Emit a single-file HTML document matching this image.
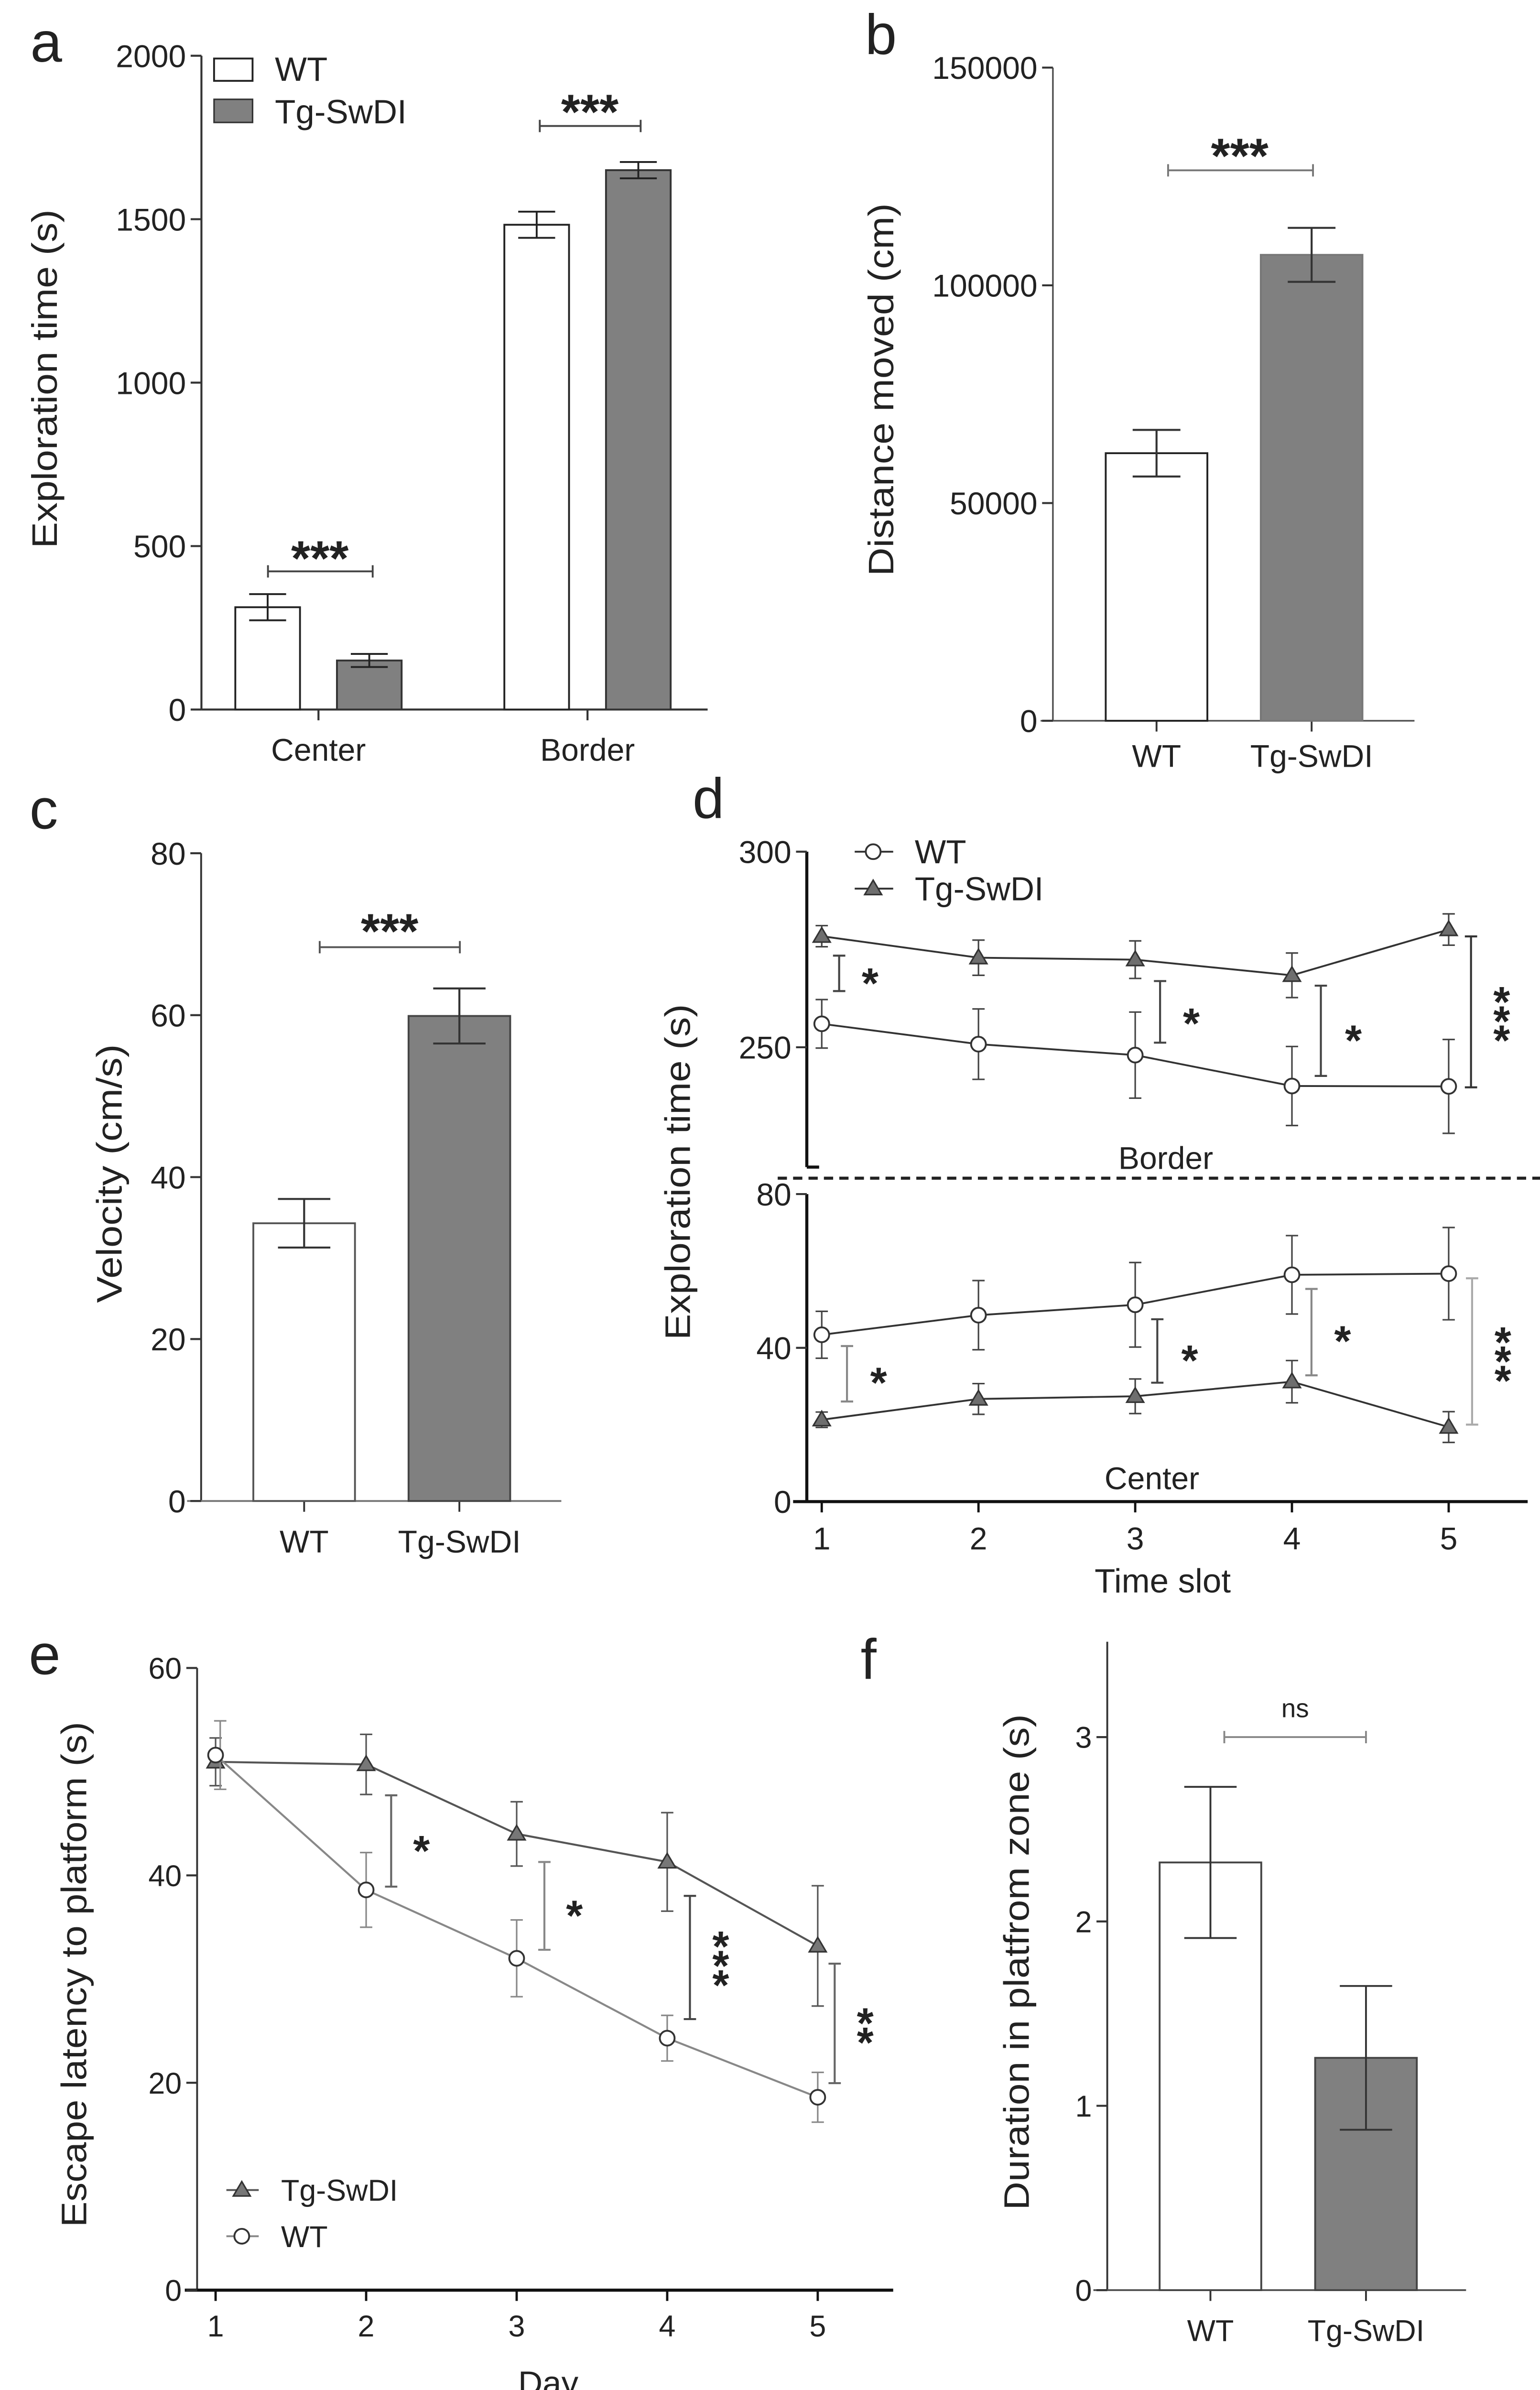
<!DOCTYPE html>
<html><head><meta charset="utf-8"><style>
html,body{margin:0;padding:0;background:#fff;width:3222px;height:5051px;overflow:hidden;}
svg{display:block;}
text{font-family:"Liberation Sans",Arial,sans-serif;fill:#222;}
</style></head><body>
<svg id="fig" xmlns="http://www.w3.org/2000/svg" width="3222" height="5051" viewBox="0 0 1000 1567.66"></svg>
<script>
// ---------- panel a data ----------
const aCats = ["Center", "Border"];
const aWT = [313, 1483];
const aWTErr = [40, 40];
const aTg = [150, 1650];
const aTgErr = [20, 25];
const aTicks = [0, 500, 1000, 1500, 2000];
// ---------- panel b data ----------
const bCats = ["WT", "Tg-SwDI"];
const bVals = [61450, 107000];
const bErr = [5350, 6200];
const bTicks = [0, 50000, 100000, 150000];
// ---------- panel c data ----------
const cCats = ["WT", "Tg-SwDI"];
const cVals = [34.3, 59.9];
const cErr = [3.0, 3.4];
const cTicks = [0, 20, 40, 60, 80];
// ---------- panel d data ----------
const dSlots = [1, 2, 3, 4, 5];
const dBorderWT = [256, 250.8, 248, 240.1, 240];
const dBorderWTErr = [6.2, 9, 11, 10.1, 12];
const dBorderTg = [278.4, 272.9, 272.4, 268.4, 280.1];
const dBorderTgErr = [2.7, 4.5, 4.8, 5.7, 4];
const dCenterWT = [43.4, 48.5, 51.2, 59, 59.3];
const dCenterWTErr = [6.1, 9, 11, 10.2, 12];
const dCenterTg = [21.3, 26.7, 27.4, 31.2, 19.4];
const dCenterTgErr = [2, 4, 4.5, 5.5, 4];
const dTopTicks = [250, 300];
const dBotTicks = [0, 40, 80];
// ---------- panel e data ----------
const eDays = [1, 2, 3, 4, 5];
const eTg = [50.95, 50.7, 44, 41.3, 33.2];
const eTgErr = [2.3, 2.9, 3.1, 4.75, 5.8];
const eWT = [51.6, 38.6, 32, 24.3, 18.6];
const eWTErr = [3.3, 3.6, 3.7, 2.2, 2.4];
const eTicks = [0, 20, 40, 60];
// ---------- panel f data ----------
const fCats = ["WT", "Tg-SwDI"];
const fVals = [2.32, 1.26];
const fErr = [0.41, 0.39];
const fTicks = [0, 1, 2, 3];

const NS = "http://www.w3.org/2000/svg";
const svg = document.getElementById("fig");
function mk(tag, attrs, parent, name) {
  const e = document.createElementNS(NS, tag);
  for (const k in attrs) e.setAttribute(k, attrs[k]);
  
  
  (parent || svg).appendChild(e);
  return e;
}
function group(name) {
  const g = document.createElementNS(NS, "g");
  
  
  svg.appendChild(g);
  return g;
}
function ln(g, x1, y1, x2, y2, col, w, name, dash) {
  const a = {x1: x1, y1: y1, x2: x2, y2: y2, stroke: col, "stroke-width": w};
  if (dash) a["stroke-dasharray"] = dash;
  return mk("line", a, g, name);
}
function tx(g, x, y, s, size, anchor, name, extra) {
  const a = {x: x, y: y, "font-size": size, "text-anchor": anchor || "start"};
  if (extra) for (const k in extra) a[k] = extra[k];
  const t = mk("text", a, g, name);
  t.textContent = s;
  return t;
}
function ytitle(g, x, cy, s, len, name) {
  return tx(g, 0, 0, s, 23, "middle", name, {transform: "translate(" + x + "," + cy + ") rotate(-90)", dy: "8", textLength: len, lengthAdjust: "spacingAndGlyphs"});
}
function errbar(g, x, y1, y2, cw, col, w, name) {
  ln(g, x, y1, x, y2, col, w, name + "-stem");
  ln(g, x - cw, y1, x + cw, y1, col, w, name + "-cap-top");
  ln(g, x - cw, y2, x + cw, y2, col, w, name + "-cap-bottom");
}
function hbracket(g, x1, x2, y, col, name) {
  ln(g, x1, y, x2, y, col, 1.2, name + "-line");
  ln(g, x1, y - 4, x1, y + 4, col, 1.2, name + "-cap-left");
  ln(g, x2, y - 4, x2, y + 4, col, 1.2, name + "-cap-right");
}
function vbracket(g, x, y1, y2, col, name) {
  ln(g, x, y1, x, y2, col, 1.3, name + "-line");
  ln(g, x - 4, y1, x + 4, y1, col, 1.3, name + "-cap-top");
  ln(g, x - 4, y2, x + 4, y2, col, 1.3, name + "-cap-bottom");
}
function stars(g, x, cy, s, size, name) {
  return tx(g, x, cy + 0.55 * size, s, size, "middle", name, {"font-weight": "bold"});
}
function vstars(g, x, cy, n, name) {
  for (let k = 0; k < n; k++) {
    const off = (k - (n - 1) / 2) * 12.5;
    tx(g, x, cy + off + 15, "*", 28, "middle", name + "-" + k, {"font-weight": "bold"});
  }
}
function circ(g, x, y, name) {
  return mk("circle", {cx: x, cy: y, r: 4.8, fill: "#fff", stroke: "#333", "stroke-width": 1.2}, g, name);
}
function tri(g, x, y, name, fill) {
  const s = 5.5;
  return mk("polygon", {points: (x) + "," + (y - s) + " " + (x - s) + "," + (y + s * 0.7) + " " + (x + s) + "," + (y + s * 0.7), fill: fill || "#6e6e6e", stroke: "#333", "stroke-width": 1}, g, name);
}
function ytick(g, ax, y, label, size, name) {
  ln(g, ax - 7, y, ax, y, "#333", 1.3, name + "-tick");
  tx(g, ax - 10, y + 0.36 * size, label, size, "end", name + "-label");
}

// ================= PANEL A =================
(function () {
  const g = group("panel-a");
  const ya = v => 460.7 - v * 0.21225;
  const xa = i => 206.8 + i * 174.7;
  const AX = 130.8;
  tx(g, 30, 40, "a", 37, "middle", "panel-a-letter");
  ln(g, AX, ya(0), AX, ya(2000), "#333", 1.3, "y-axis");
  ln(g, AX, ya(0), 459.5, ya(0), "#333", 1.3, "x-axis");
  aTicks.forEach(v => ytick(g, AX, ya(v), String(v), 20.5, "y-tick-" + v));
  ytitle(g, 29, 246, "Exploration time (s)", 220, "y-axis-title");
  aCats.forEach((c, i) => {
    ln(g, xa(i), ya(0), xa(i), ya(0) + 7, "#333", 1.3, "x-tick-" + c.toLowerCase());
    tx(g, xa(i), 494, c, 20.5, "middle", "x-label-" + c.toLowerCase());
    const xw = xa(i) - 33;
    mk("rect", {x: xw - 21, y: ya(aWT[i]), width: 42, height: ya(0) - ya(aWT[i]), fill: "#fff", stroke: "#222", "stroke-width": 1.2}, g, "bar-wt-" + c.toLowerCase());
    errbar(g, xw, ya(aWT[i] + aWTErr[i]), ya(aWT[i] - aWTErr[i]), 12, "#222", 1.2, "err-wt-" + c.toLowerCase());
    const xt = xa(i) + 33;
    mk("rect", {x: xt - 21, y: ya(aTg[i]), width: 42, height: ya(0) - ya(aTg[i]), fill: "#808080", stroke: "#333", "stroke-width": 1.2}, g, "bar-tg-" + c.toLowerCase());
    errbar(g, xt, ya(aTg[i] + aTgErr[i]), ya(aTg[i] - aTgErr[i]), 12, "#222", 1.2, "err-tg-" + c.toLowerCase());
  });
  hbracket(g, 174, 242, 371, "#444", "sig-bracket-center");
  stars(g, 207.7, 356, "***", 32, "sig-stars-center");
  hbracket(g, 350.5, 416, 81.8, "#444", "sig-bracket-border");
  stars(g, 383, 66, "***", 32, "sig-stars-border");
  mk("rect", {x: 139, y: 38, width: 25, height: 14.5, fill: "#fff", stroke: "#222", "stroke-width": 1.2}, g, "legend-swatch-wt");
  tx(g, 178.5, 52.5, "WT", 22, "start", "legend-label-wt");
  mk("rect", {x: 139, y: 64.5, width: 25, height: 15, fill: "#808080", stroke: "#333", "stroke-width": 1}, g, "legend-swatch-tg");
  tx(g, 178.5, 80, "Tg-SwDI", 22, "start", "legend-label-tg");
})();

// ================= PANEL B =================
(function () {
  const g = group("panel-b");
  const yb = v => 468 - v * (424.1 / 150000);
  const xb = i => 751 + i * 100.7;
  const AX = 683.7;
  tx(g, 572, 35, "b", 37, "middle", "panel-b-letter");
  ln(g, AX, yb(0), AX, yb(150000), "#555", 1.1, "y-axis");
  ln(g, 675.7, yb(0), 918.5, yb(0), "#555", 1.1, "x-axis");
  bTicks.forEach(v => ytick(g, AX, yb(v), String(v), 20.5, "y-tick-" + v));
  ytitle(g, 572, 253, "Distance moved (cm)", 242, "y-axis-title");
  bCats.forEach((c, i) => {
    ln(g, xb(i), yb(0), xb(i), yb(0) + 7, "#333", 1.2, "x-tick-" + i);
    tx(g, xb(i), 498, c, 20.5, "middle", "x-label-" + i);
    mk("rect", {x: xb(i) - 33, y: yb(bVals[i]), width: 66, height: yb(0) - yb(bVals[i]), fill: i ? "#808080" : "#fff", stroke: i ? "#777" : "#222", "stroke-width": 1.2}, g, "bar-" + (i ? "tg" : "wt"));
    errbar(g, xb(i), yb(bVals[i] + bErr[i]), yb(bVals[i] - bErr[i]), 15.5, "#333", 1.3, "err-" + (i ? "tg" : "wt"));
  });
  hbracket(g, 758.5, 852.6, 110.6, "#777", "sig-bracket");
  stars(g, 805, 94.6, "***", 32, "sig-stars");
})();

// ================= PANEL C =================
(function () {
  const g = group("panel-c");
  const yc = v => 974.6 - v * 5.2575;
  const xc = i => 197.5 + i * 100.8;
  const AX = 130.6;
  tx(g, 28.4, 538, "c", 37, "middle", "panel-c-letter");
  ln(g, AX, yc(0), AX, yc(80), "#333", 1.2, "y-axis");
  ln(g, 121.5, yc(0), 364.5, yc(0), "#777", 1.2, "x-axis");
  cTicks.forEach(v => ytick(g, AX, yc(v), String(v), 20.5, "y-tick-" + v));
  ytitle(g, 71, 762, "Velocity (cm/s)", 168, "y-axis-title");
  cCats.forEach((c, i) => {
    ln(g, xc(i), yc(0), xc(i), yc(0) + 7, "#333", 1.2, "x-tick-" + i);
    tx(g, xc(i), 1008, c, 20.5, "middle", "x-label-" + i);
    mk("rect", {x: xc(i) - 33, y: yc(cVals[i]), width: 66, height: yc(0) - yc(cVals[i]), fill: i ? "#808080" : "#fff", stroke: i ? "#444" : "#555", "stroke-width": 1.2}, g, "bar-" + (i ? "tg" : "wt"));
    errbar(g, xc(i), yc(cVals[i] + cErr[i]), yc(cVals[i] - cErr[i]), 17, "#333", 1.3, "err-" + (i ? "tg" : "wt"));
  });
  hbracket(g, 207.6, 298.6, 615, "#555", "sig-bracket");
  stars(g, 253, 598, "***", 32, "sig-stars");
})();

// ================= PANEL D =================
(function () {
  const g = group("panel-d");
  const xd = s => 533.6 + (s - 1) * 101.775;
  const yt = v => 553 + (300 - v) * 2.54;
  const yl = v => 975 - v * 2.496;
  const AX = 523.9;
  tx(g, 460, 531, "d", 37, "middle", "panel-d-letter");
  ln(g, AX, yt(300), AX, 757.8, "#111", 2, "y-axis-top");
  ln(g, AX, 757.8, AX + 8, 757.8, "#111", 2, "y-axis-top-end");
  dTopTicks.forEach(v => ytick(g, AX, yt(v), String(v), 20.5, "y-tick-top-" + v));
  ln(g, AX, yl(80), AX, yl(0), "#111", 2, "y-axis-bottom");
  dBotTicks.forEach(v => ytick(g, AX, yl(v), String(v), 20.5, "y-tick-bottom-" + v));
  ln(g, 505, 765, 1000, 765, "#222", 2, "section-divider", "6 4");
  ln(g, 515, yl(0), 992, yl(0), "#111", 2, "x-axis");
  dSlots.forEach(s => {
    ln(g, xd(s), yl(0), xd(s), yl(0) + 7, "#111", 1.5, "x-tick-" + s);
    tx(g, xd(s), 1006, String(s), 20.5, "middle", "x-label-" + s);
  });
  tx(g, 755, 1034, "Time slot", 22, "middle", "x-axis-title");
  ytitle(g, 440, 761, "Exploration time (s)", 218, "y-axis-title");
  tx(g, 757, 759, "Border", 20.5, "middle", "section-label-border");
  tx(g, 748, 967, "Center", 20.5, "middle", "section-label-center");
  function series(vals, errs, yf, kind, name) {
    const pts = dSlots.map((s, i) => xd(s) + "," + yf(vals[i])).join(" ");
    mk("polyline", {points: pts, fill: "none", stroke: "#333", "stroke-width": 1.2}, g, name + "-line");
    dSlots.forEach((s, i) => {
      errbar(g, xd(s), yf(vals[i] + errs[i]), yf(vals[i] - errs[i]), 4, "#444", 1, name + "-err-" + s);
    });
    dSlots.forEach((s, i) => {
      if (kind === "c") circ(g, xd(s), yf(vals[i]), name + "-point-" + s);
      else tri(g, xd(s), yf(vals[i]), name + "-point-" + s);
    });
  }
  series(dBorderTg, dBorderTgErr, yt, "t", "border-tg");
  series(dBorderWT, dBorderWTErr, yt, "c", "border-wt");
  series(dCenterWT, dCenterWTErr, yl, "c", "center-wt");
  series(dCenterTg, dCenterTgErr, yl, "t", "center-tg");
  vbracket(g, 544.9, 620.5, 643.5, "#444", "sig-border-1");
  stars(g, 565, 632.6, "*", 28, "sig-border-1-star");
  vbracket(g, 753.3, 637, 677, "#444", "sig-border-3");
  stars(g, 773.6, 658.7, "*", 28, "sig-border-3-star");
  vbracket(g, 857.7, 640, 698.6, "#444", "sig-border-4");
  stars(g, 878.8, 669.8, "*", 28, "sig-border-4-star");
  vbracket(g, 955.2, 608, 706, "#333", "sig-border-5");
  vstars(g, 975.1, 657.7, 3, "sig-border-5-stars");
  vbracket(g, 550, 874, 910, "#888", "sig-center-1");
  stars(g, 570.5, 892, "*", 28, "sig-center-1-star");
  vbracket(g, 751.5, 856.6, 897.8, "#444", "sig-center-3");
  stars(g, 772.5, 877.6, "*", 28, "sig-center-3-star");
  vbracket(g, 851.6, 836.9, 893, "#888", "sig-center-4");
  stars(g, 871.8, 865, "*", 28, "sig-center-4-star");
  vbracket(g, 955.9, 830, 925, "#aaa", "sig-center-5");
  vstars(g, 975.9, 878.6, 3, "sig-center-5-stars");
  ln(g, 555, 553, 580, 553, "#333", 1.2, "legend-line-wt");
  circ(g, 567, 553, "legend-marker-wt");
  tx(g, 594, 560.5, "WT", 21.5, "start", "legend-label-wt");
  ln(g, 555, 577, 580, 577, "#333", 1.2, "legend-line-tg");
  tri(g, 567, 577, "legend-marker-tg");
  tx(g, 594, 584.5, "Tg-SwDI", 21.5, "start", "legend-label-tg");
})();

// ================= PANEL E =================
(function () {
  const g = group("panel-e");
  const xe = d => 140 + (d - 1) * 97.75;
  const ye = v => 1487 - v * 6.733;
  const AX = 128;
  tx(g, 29, 1087, "e", 37, "middle", "panel-e-letter");
  ln(g, AX, ye(0), AX, ye(60), "#333", 1.2, "y-axis");
  ln(g, 120, ye(0), 580, ye(0), "#111", 2, "x-axis");
  eTicks.forEach(v => ytick(g, AX, ye(v), String(v), 19.5, "y-tick-" + v));
  eDays.forEach(d => {
    ln(g, xe(d), ye(0), xe(d), ye(0) + 7, "#111", 1.5, "x-tick-" + d);
    tx(g, xe(d), 1517, String(d), 19.5, "middle", "x-label-" + d);
  });
  tx(g, 356, 1555, "Day", 22, "middle", "x-axis-title");
  ytitle(g, 48, 1282, "Escape latency to platform (s)", 328, "y-axis-title");
  function series(vals, errs, col, kind, name) {
    const pts = eDays.map((d, i) => xe(d) + "," + ye(vals[i])).join(" ");
    mk("polyline", {points: pts, fill: "none", stroke: col, "stroke-width": 1.3}, g, name + "-line");
    eDays.forEach((d, i) => {
      errbar(g, xe(d) + (kind === "c" && i === 0 ? 3 : 0), ye(vals[i] + errs[i]), ye(vals[i] - errs[i]), 4, col, 1, name + "-err-" + d);
    });
    eDays.forEach((d, i) => {
      if (kind === "c") circ(g, xe(d), ye(vals[i]), name + "-point-" + d);
      else tri(g, xe(d), ye(vals[i]), name + "-point-" + d, "#777");
    });
  }
  series(eTg, eTgErr, "#555", "t", "tg");
  series(eWT, eWTErr, "#888", "c", "wt");
  vbracket(g, 254, 1165.7, 1225, "#666", "sig-day-2");
  stars(g, 273.7, 1196, "*", 28, "sig-day-2-star");
  vbracket(g, 353.5, 1209, 1266, "#888", "sig-day-3");
  stars(g, 373, 1238, "*", 28, "sig-day-3-star");
  vbracket(g, 448, 1231, 1311, "#444", "sig-day-4");
  vstars(g, 468, 1271, 3, "sig-day-4-stars");
  vbracket(g, 542, 1275, 1352.6, "#666", "sig-day-5");
  vstars(g, 561.8, 1314.5, 2, "sig-day-5-stars");
  ln(g, 147, 1422, 168, 1422, "#555", 1.2, "legend-line-tg");
  tri(g, 157, 1422, "legend-marker-tg", "#777");
  tx(g, 182.5, 1429, "Tg-SwDI", 19.5, "start", "legend-label-tg");
  ln(g, 147, 1452, 168, 1452, "#888", 1.2, "legend-line-wt");
  circ(g, 157, 1452, "legend-marker-wt");
  tx(g, 182.5, 1459, "WT", 19.5, "start", "legend-label-wt");
})();

// ================= PANEL F =================
(function () {
  const g = group("panel-f");
  const yf = v => 1487 - v * 119.7;
  const xf = i => 786 + i * 101;
  const AX = 719;
  tx(g, 564, 1090, "f", 37, "middle", "panel-f-letter");
  ln(g, AX, yf(0), AX, 1066, "#333", 1.2, "y-axis");
  ln(g, 710, yf(0), 952, yf(0), "#555", 1.2, "x-axis");
  fTicks.forEach(v => ytick(g, AX, yf(v), String(v), 19.5, "y-tick-" + v));
  ytitle(g, 660, 1274, "Duration in platfrom zone (s)", 322, "y-axis-title");
  fCats.forEach((c, i) => {
    ln(g, xf(i), yf(0), xf(i), yf(0) + 7, "#333", 1.2, "x-tick-" + i);
    tx(g, xf(i), 1520, c, 19.5, "middle", "x-label-" + i);
    mk("rect", {x: xf(i) - 33, y: yf(fVals[i]), width: 66, height: yf(0) - yf(fVals[i]), fill: i ? "#808080" : "#fff", stroke: "#444", "stroke-width": 1.2}, g, "bar-" + (i ? "tg" : "wt"));
    errbar(g, xf(i), yf(fVals[i] + fErr[i]), yf(fVals[i] - fErr[i]), 17, "#333", 1.2, "err-" + (i ? "tg" : "wt"));
  });
  hbracket(g, 795, 887, yf(3), "#888", "sig-bracket");
  tx(g, 841, 1115, "ns", 17, "middle", "sig-label-ns");
})();
</script>
</body></html>
